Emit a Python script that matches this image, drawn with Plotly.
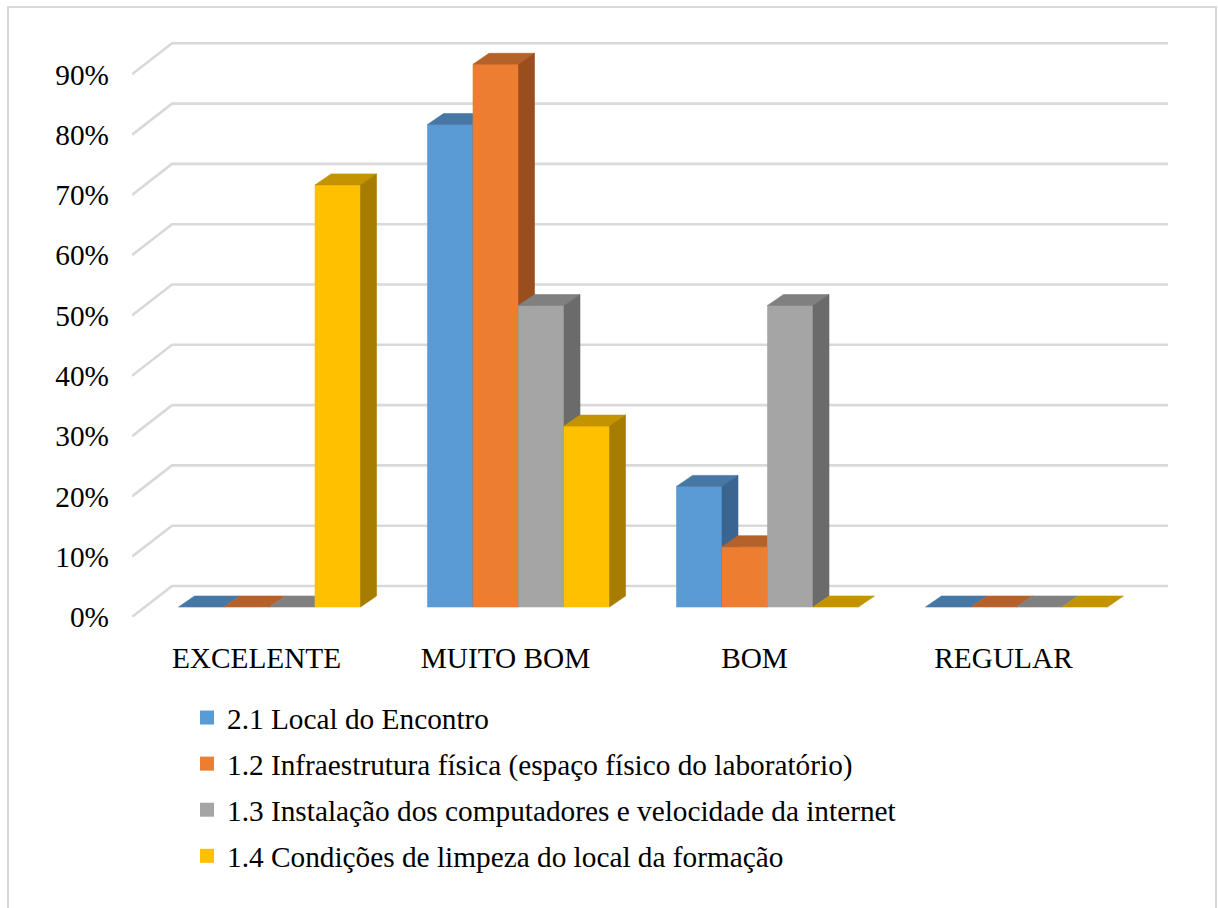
import plotly.graph_objects as go

# ---- data -------------------------------------------------------------
categories = ["EXCELENTE", "MUITO BOM", "BOM", "REGULAR"]
series_names = [
    "2.1 Local do Encontro",
    "1.2 Infraestrutura física (espaço físico do laboratório)",
    "1.3 Instalação dos computadores e velocidade da internet",
    "1.4 Condições de limpeza do local da formação",
]
local_encontro = [0, 80, 20, 0]
infraestrutura = [0, 90, 10, 0]
instalacao = [0, 50, 50, 0]
limpeza = [70, 30, 0, 0]
y_ticks = [0, 10, 20, 30, 40, 50, 60, 70, 80, 90]

series_values = [local_encontro, infraestrutura, instalacao, limpeza]

# ---- styling ----------------------------------------------------------
front_colors = ["#5B9BD5", "#ED7D31", "#A5A5A5", "#FFC000"]
top_colors = ["#4677A5", "#B5612A", "#808080", "#C49400"]
side_colors = ["#3A6590", "#9A4E1E", "#6B6B6B", "#A67D00"]
FONT = "'Liberation Serif', 'Times New Roman', serif"
FONT_SIZE = 29.3
GRID = "#D9D9D9"

W, H = 1218, 908
# pixel geometry of the 3-D box
PX_LEFT, PX_RIGHT, PX_TOP, PX_BOTTOM = 132, 1168, 40, 617
X_ORIGIN_PX, X_UNIT_PX = 269.5, 249.0     # bar-front plane, category 0 centre
Y_ORIGIN_PX, Y_UNIT_PX = 607.0, 6.03      # bar-front plane, 0 %

def dx(px):
    return px / X_UNIT_PX

def dy(px):
    return px / Y_UNIT_PX

x_range = [(PX_LEFT - X_ORIGIN_PX) / X_UNIT_PX, (PX_RIGHT - X_ORIGIN_PX) / X_UNIT_PX]
y_range = [(Y_ORIGIN_PX - PX_BOTTOM) / Y_UNIT_PX, (Y_ORIGIN_PX - PX_TOP) / Y_UNIT_PX]

FLOOR_DX, FLOOR_DY = dx(-13), dy(-10)     # front edge of the floor
BACK_DX, BACK_DY = dx(27), dy(21)         # back wall
BAR_W = dx(45.5)
DEPTH_DX, DEPTH_DY = dx(16), dy(11)       # bar depth

fig = go.Figure()

# bars: front, top and side faces drawn left to right so that each bar
# hides the hidden part of its left neighbour
n_series = len(series_values)
for i in range(len(categories)):
    for j in range(n_series):
        v = series_values[j][i]
        x0 = i - n_series / 2 * BAR_W + j * BAR_W
        x1 = x0 + BAR_W
        faces = []
        if v > 0:
            faces.append(([x0, x1, x1, x0, x0], [0, 0, v, v, 0], front_colors[j]))
        faces.append(([x0, x1, x1 + DEPTH_DX, x0 + DEPTH_DX, x0],
                      [v, v, v + DEPTH_DY, v + DEPTH_DY, v], top_colors[j]))
        if v > 0:
            faces.append(([x1, x1 + DEPTH_DX, x1 + DEPTH_DX, x1, x1],
                          [0, DEPTH_DY, v + DEPTH_DY, v, 0], side_colors[j]))
        for fx, fy, col in faces:
            fig.add_trace(go.Scatter(
                x=fx, y=fy, mode="lines", fill="toself", fillcolor=col,
                line=dict(color=col, width=0.6), hoverinfo="skip",
                showlegend=False,
            ))

# legend entries
for j, name in enumerate(series_names):
    fig.add_trace(go.Scatter(
        x=[None], y=[None], mode="markers", name=name, legendgroup=f"g{j}",
        marker=dict(symbol="square", size=14, color=front_colors[j]),
    ))

# gridlines: diagonal on the side wall, horizontal on the back wall
shapes = []
for v in y_ticks:
    xl = x_range[0]
    xb = xl + (BACK_DX - FLOOR_DX)
    shapes.append(dict(
        type="path", layer="below", xref="x", yref="y",
        path=f"M {xl},{v + FLOOR_DY} L {xb},{v + BACK_DY} L {x_range[1]},{v + BACK_DY}",
        line=dict(color=GRID, width=2.6),
    ))

# chart border
plot_w = PX_RIGHT - PX_LEFT
plot_h = PX_BOTTOM - PX_TOP
def px_to_paper_x(px):
    return (px - PX_LEFT) / plot_w

def px_to_paper_y(py):
    return (PX_BOTTOM - py) / plot_h

shapes.append(dict(
    type="rect", xref="paper", yref="paper", layer="below",
    x0=px_to_paper_x(8), x1=px_to_paper_x(1216),
    y0=px_to_paper_y(915), y1=px_to_paper_y(7),
    line=dict(color=GRID, width=2), fillcolor="rgba(0,0,0,0)",
))

fig.update_layout(
    width=W, height=H,
    margin=dict(l=PX_LEFT, r=W - PX_RIGHT, t=PX_TOP, b=H - PX_BOTTOM),
    paper_bgcolor="white", plot_bgcolor="white",
    font=dict(family=FONT, size=FONT_SIZE, color="black"),
    shapes=shapes,
    showlegend=True,
    legend=dict(
        x=px_to_paper_x(187), y=px_to_paper_y(692), xanchor="left", yanchor="top",
        font=dict(family=FONT, size=FONT_SIZE, color="black"),
        traceorder="grouped", tracegroupgap=5, bgcolor="rgba(0,0,0,0)",
    ),
    xaxis=dict(
        range=x_range, showgrid=False, zeroline=False, showline=False,
        tickmode="array", tickvals=[i + FLOOR_DX for i in range(len(categories))],
        ticktext=categories, ticks="", ticklabelstandoff=21,
        tickfont=dict(family=FONT, size=FONT_SIZE, color="black"), fixedrange=True,
    ),
    yaxis=dict(
        range=y_range, showgrid=False, zeroline=False, showline=False,
        tickmode="array", tickvals=[v + FLOOR_DY for v in y_ticks],
        ticktext=[f"{v}%" for v in y_ticks], ticks="", ticklabelstandoff=22,
        tickfont=dict(family=FONT, size=FONT_SIZE, color="black"), fixedrange=True,
    ),
)

fig.write_html("out.html")
